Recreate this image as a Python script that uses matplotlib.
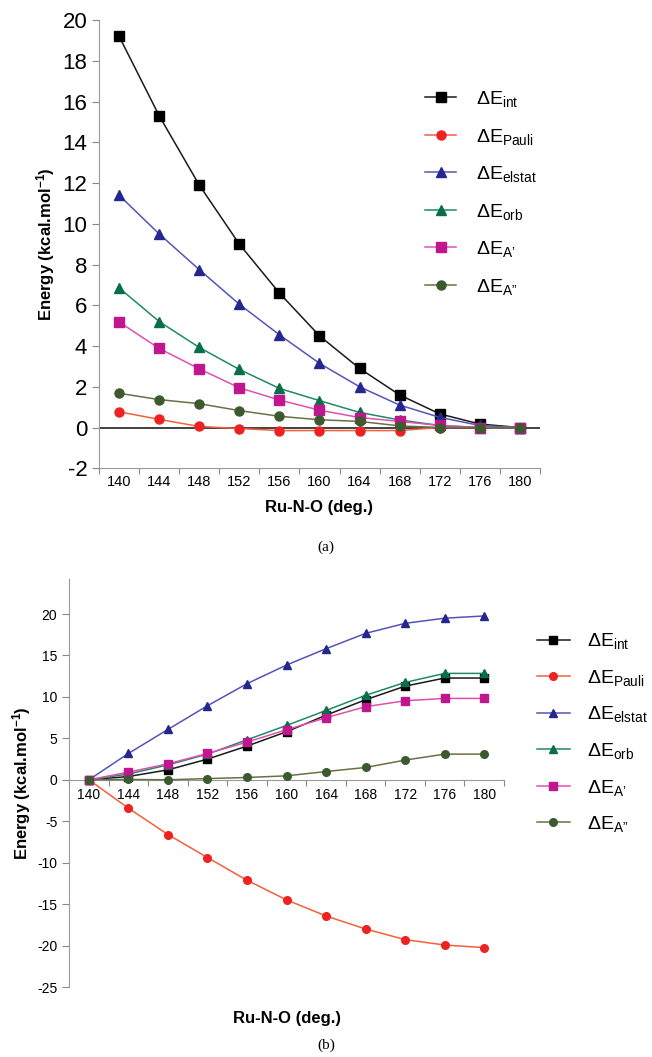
import numpy as np
import matplotlib
matplotlib.use('Agg')
import matplotlib.pyplot as plt

plt.rcParams['font.family'] = ['Liberation Sans', 'DejaVu Sans']
plt.rcParams['mathtext.fontset'] = 'custom'
plt.rcParams['mathtext.rm'] = 'Liberation Sans'
plt.rcParams['mathtext.it'] = 'Liberation Sans:italic'
plt.rcParams['mathtext.bf'] = 'Liberation Sans:bold'
plt.rcParams['axes.unicode_minus'] = False

angles = [140, 144, 148, 152, 156, 160, 164, 168, 172, 176, 180]

# panel (a)
a_int = [19.2, 15.3, 11.9, 9.0, 6.6, 4.5, 2.9, 1.6, 0.67, 0.17, 0.0]
a_pauli = [0.77, 0.4, 0.05, -0.05, -0.15, -0.15, -0.15, -0.15, 0.0, 0.0, 0.0]
a_elstat = [11.4, 9.5, 7.75, 6.05, 4.55, 3.15, 2.0, 1.1, 0.5, 0.1, 0.0]
a_orb = [6.85, 5.2, 3.93, 2.85, 1.92, 1.32, 0.74, 0.37, 0.1, 0.0, 0.0]
a_ap = [5.18, 3.88, 2.88, 1.95, 1.35, 0.85, 0.49, 0.3, 0.1, 0.0, 0.0]
a_app = [1.68, 1.37, 1.17, 0.83, 0.55, 0.38, 0.3, 0.08, 0.0, 0.0, 0.0]

# panel (b)
b_int = [0.0, 0.4, 1.2, 2.5, 4.07, 5.8, 7.8, 9.66, 11.3, 12.28, 12.28]
b_pauli = [0.0, -3.42, -6.6, -9.38, -12.12, -14.49, -16.43, -18.0, -19.28, -19.93, -20.25]
b_elstat = [0.0, 3.18, 6.08, 8.94, 11.6, 13.85, 15.82, 17.67, 18.88, 19.5, 19.77]
b_orb = [0.0, 0.7, 1.8, 3.1, 4.83, 6.56, 8.37, 10.2, 11.75, 12.84, 12.84]
b_ap = [0.0, 0.93, 1.93, 3.18, 4.55, 6.04, 7.49, 8.82, 9.54, 9.82, 9.82]
b_app = [0.0, 0.05, 0.0, 0.15, 0.28, 0.48, 1.0, 1.49, 2.38, 3.1, 3.1]

labels = [r'$\Delta$E$_{\mathrm{int}}$', r'$\Delta$E$_{\mathrm{Pauli}}$',
          r'$\Delta$E$_{\mathrm{elstat}}$', r'$\Delta$E$_{\mathrm{orb}}$',
          '$\\Delta$E$_{\\mathrm{A\u2019}}$', '$\\Delta$E$_{\\mathrm{A\u201d}}$']
line_cols = ['#1a1a1a', '#f2603c', '#5454b8', '#1f8a66', '#e050b0', '#6a7045']
mark_cols = ['#000000', '#ee2222', '#26268f', '#0a6e4c', '#c0168e', '#3b5a2e']
markers = ['s', 'o', '^', '^', 's', 'o']

fig = plt.figure(figsize=(6.52, 10.57), dpi=100)


def style_x(ax, size):
    ax.set_xlim(138, 182)
    ax.set_xticks(np.arange(138, 183, 4))
    ax.set_xticklabels([])
    ax.set_xticks(angles, minor=True)
    ax.set_xticklabels([str(a) for a in angles], minor=True, fontsize=size)
    ax.tick_params(axis='x', which='major', length=4, color='#888888', direction='out')
    ax.tick_params(axis='x', which='minor', length=0)
    for s in ['top', 'right']:
        ax.spines[s].set_visible(False)
    for s in ['left', 'bottom']:
        ax.spines[s].set_color('#999999')
    ax.tick_params(axis='y', length=5, color='#888888')


# ---- (a)
ax1 = fig.add_axes([0.152, 0.557, 0.676, 0.424])
series_a = [a_int, a_pauli, a_elstat, a_orb, a_ap, a_app]
for i in range(6):
    ax1.plot(angles, series_a[i], color=line_cols[i], lw=1.1, marker=markers[i],
             markersize=6.5, markerfacecolor=mark_cols[i], markeredgecolor=mark_cols[i],
             label=labels[i], zorder=3)
ax1.axhline(0, color='#333333', lw=1.3, zorder=2)
ax1.set_ylim(-2, 20)
ax1.set_yticks(range(-2, 21, 2))
ax1.tick_params(axis='y', labelsize=16)
style_x(ax1, 10.5)
ax1.tick_params(axis='x', which='minor', pad=5)
ax1.set_xlabel('Ru-N-O (deg.)', fontsize=12, fontweight='bold', labelpad=8)
ax1.set_ylabel(r'Energy (kcal.mol$^{\mathbf{-1}}$)', fontsize=12, fontweight='bold', labelpad=4)
ax1.legend(loc='upper left', bbox_to_anchor=(0.7, 0.885), frameon=False, fontsize=14,
           handlelength=1.6, labelspacing=0.9, handletextpad=1.0)

fig.text(0.5, 0.4825, '(a)', family='Liberation Serif', fontsize=11, ha='center', va='center')

# ---- (b)
ax2 = fig.add_axes([0.106, 0.0662, 0.667, 0.3858])
series_b = [b_int, b_pauli, b_elstat, b_orb, b_ap, b_app]
for i in range(6):
    ax2.plot(angles, series_b[i], color=line_cols[i], lw=1.1, marker=markers[i],
             markersize=5.5, markerfacecolor=mark_cols[i], markeredgecolor=mark_cols[i],
             label=labels[i], zorder=3)
ax2.set_ylim(-25, 24.2)
ax2.set_yticks(range(-25, 21, 5))
ax2.tick_params(axis='y', labelsize=10)
style_x(ax2, 10.5)
ax2.spines['bottom'].set_position(('data', 0))
ax2.tick_params(axis='x', which='minor', pad=6)
ax2.set_xlabel('Ru-N-O (deg.)', fontsize=12, fontweight='bold')
ax2.xaxis.set_label_coords(0.5, -0.06)
ax2.set_ylabel(r'Energy (kcal.mol$^{\mathbf{-1}}$)', fontsize=12, fontweight='bold', labelpad=3)
ax2.legend(loc='upper left', bbox_to_anchor=(1.035, 0.915), frameon=False, fontsize=14,
           handlelength=1.7, labelspacing=0.85, handletextpad=0.9)

fig.text(0.5, 0.0114, '(b)', family='Liberation Serif', fontsize=11, ha='center', va='center')

fig.savefig('out.png', dpi=100)
